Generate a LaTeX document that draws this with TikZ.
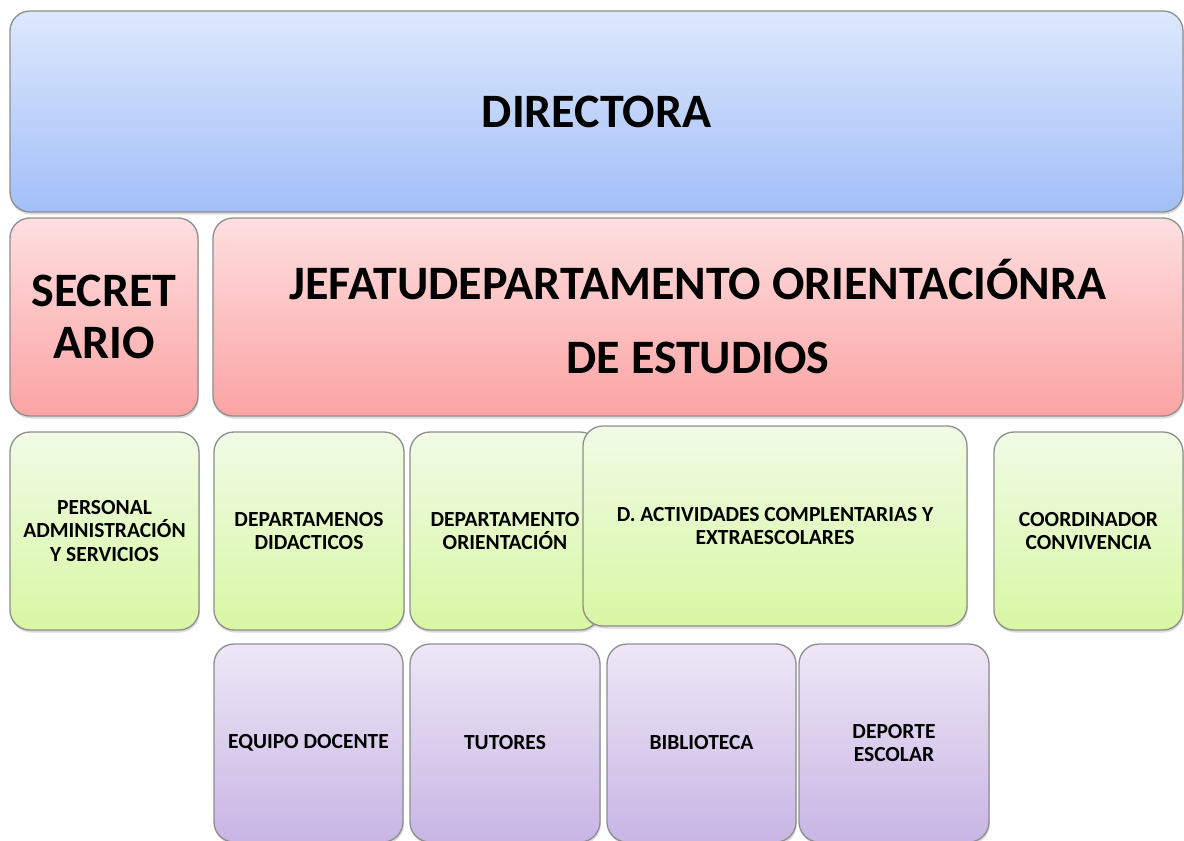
\documentclass[tikz,border=0pt]{standalone}
\usepackage{fontspec}
\setmainfont{Carlito}
\usetikzlibrary{shadows}
\definecolor{bordergray}{HTML}{8E8E8E}
\definecolor{blueT}{HTML}{DDE8FC}
\definecolor{blueB}{HTML}{A2BFF8}
\definecolor{redT}{HTML}{FDDFE0}
\definecolor{redB}{HTML}{FCA3A3}
\definecolor{greenT}{HTML}{F1FBE6}
\definecolor{greenB}{HTML}{D8F7A3}
\definecolor{purpT}{HTML}{EDE7F6}
\definecolor{purpB}{HTML}{C8B5E4}
\tikzset{
  box/.style={rectangle, rounded corners=20pt, draw=bordergray, line width=1.3pt,
    inner sep=2pt, outer sep=0pt, align=center, font=\bfseries,
    drop shadow={opacity=0.28, shadow xshift=0.8pt, shadow yshift=-2.5pt}},
  bluebox/.style={box, top color=blueT, bottom color=blueB},
  redbox/.style={box, top color=redT, bottom color=redB},
  greenbox/.style={box, top color=greenT, bottom color=greenB},
  purplebox/.style={box, top color=purpT, bottom color=purpB},
  bigtxt/.style={font=\bfseries\fontsize{48}{74}\selectfont},
  sectxt/.style={font=\bfseries\fontsize{48}{52}\selectfont},
  smalltxt/.style={font=\bfseries\fontsize{21.5}{23.5}\selectfont},
}
\begin{document}
\begin{tikzpicture}[x=1pt,y=-1pt]
\fill[white] (0,0) rectangle (1184,841);
\useasboundingbox (0,0) rectangle (1184,841);
% top
\node[bluebox, bigtxt, minimum width=1173pt, minimum height=201pt] (dir) at (596.5,111.5) {DIRECTORA};
% second row
\node[redbox, sectxt, minimum width=188pt, minimum height=198pt] (sec) at (104,317) {SECRET\\ARIO};
\node[redbox, bigtxt, minimum width=970pt, minimum height=198pt] (jef) at (698,317) {JEFATUDEPARTAMENTO ORIENTACIÓNRA\\DE ESTUDIOS};
% third row
\node[greenbox, smalltxt, minimum width=189pt, minimum height=198pt] (per) at (104.5,531) {PERSONAL\\ADMINISTRACIÓN\\Y SERVICIOS};
\node[greenbox, smalltxt, minimum width=190pt, minimum height=198pt] (ddid) at (309,531) {DEPARTAMENOS\\DIDACTICOS};
\node[greenbox, smalltxt, minimum width=190pt, minimum height=198pt] (dori) at (505,531) {DEPARTAMENTO\\ORIENTACIÓN};
\node[greenbox, smalltxt, minimum width=384pt, minimum height=200pt] (dact) at (775,526) {D. ACTIVIDADES COMPLENTARIAS Y\\EXTRAESCOLARES};
\node[greenbox, smalltxt, minimum width=189pt, minimum height=198pt] (coor) at (1088.5,531) {COORDINADOR\\CONVIVENCIA};
% fourth row
\node[purplebox, smalltxt, minimum width=189pt, minimum height=198pt] (eq) at (308.5,743) {EQUIPO DOCENTE};
\node[purplebox, smalltxt, minimum width=190pt, minimum height=198pt] (tut) at (505,743) {TUTORES};
\node[purplebox, smalltxt, minimum width=189pt, minimum height=198pt] (bib) at (701.5,743) {BIBLIOTECA};
\node[purplebox, smalltxt, minimum width=190pt, minimum height=198pt] (dep) at (894,743) {DEPORTE\\ESCOLAR};
\end{tikzpicture}
\end{document}
